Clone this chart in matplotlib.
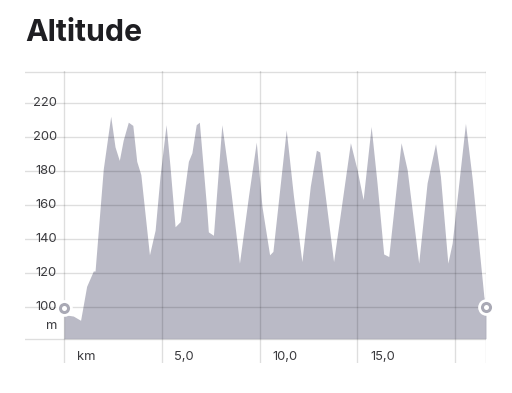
import matplotlib.pyplot as plt

plt.rcParams['font.family'] = ['Inter', 'DejaVu Sans']

# elevation profile
km = [0, 0.2, 0.48, 0.85, 1.16, 1.50, 1.59, 2.01, 2.39, 2.61, 2.83, 3.03, 3.29, 3.52,
      3.72, 3.93, 4.37, 4.66, 4.91, 5.22, 5.42, 5.68, 5.94, 6.36, 6.54, 6.76, 6.92,
      7.30, 7.38, 7.64, 8.07, 8.50, 8.97, 9.43, 9.83, 10.12, 10.51, 10.68, 11.36,
      11.73, 12.16, 12.59, 12.90, 13.07, 13.78, 14.64, 14.98, 15.29, 15.70, 16.00,
      16.34, 16.60, 17.23, 17.54, 18.13, 18.56, 18.99, 19.24, 19.62, 19.84, 20.52,
      20.87, 21.46, 21.57]
alt = [99, 95, 94.5, 92, 112, 121, 121, 181, 212, 194, 186, 198, 208.5, 206.6,
       185.5, 177.7, 130.5, 145, 176.7, 207, 182.6, 147, 150, 185.5, 190.5, 207, 208.5,
       157, 144, 142, 207, 170.8, 125.6, 165, 196.8, 159, 130.5, 132.5, 204,
       165, 126.5, 170.8, 192, 191, 126.5, 196.4, 180.6, 163, 206, 172.8,
       131, 129.5, 196.4, 180.6, 125.6, 172.8, 195.8, 176.7, 125.6, 137.4, 207.8,
       174.7, 106, 100]

yticks = [100, 120, 140, 160, 180, 200, 220]
xticks = [0, 5, 10, 15, 20]
xlabels = ['km', '5,0', '10,0', '15,0', '']

base = 81.2
fillc = '#babac6'
gridc = (0, 0, 0, 0.13)
txtc = '#3a3a3e'

fig = plt.figure(figsize=(5.12, 3.93), dpi=100)
ax = fig.add_axes([25/512, 30/393, 461/512, 292/393])
ax.set_xlim(-1.99, 21.57)
ax.set_ylim(66.9, 238.6)
ax.axis('off')

ax.fill_between(km, alt, base, color=fillc, lw=0, zorder=1)

for y in yticks + [base, 238.3]:
    ax.axhline(y, color=gridc, lw=1.0, zorder=2)
for x in xticks + [km[-1]]:
    ax.axvline(x, color=gridc, lw=1.0, zorder=2)

for y in yticks:
    ax.text(-0.36, y, str(y), ha='right', va='center', fontsize=9.3, color=txtc, zorder=3)
ax.text(-0.36, 88.8, 'm', ha='right', va='center', fontsize=9.3, color=txtc, zorder=3)
for x, lab in zip(xticks, xlabels):
    ax.text(x + 0.65, 70.6, lab, ha='left', va='center', fontsize=9.3, color=txtc, zorder=3)

# start / end markers
for i in (0, -1):
    ax.plot(km[i], alt[i], 'o', ms=10, mfc='#a9a9b5', mec='white', mew=2,
            clip_on=False, zorder=4)
    ax.plot(km[i], alt[i], 'o', ms=3.6, mfc='white', mec='none', clip_on=False, zorder=5)

fig.text(25/512, 1 - 41/393, 'Altitude', fontsize=21.8, fontweight='bold',
         color='#1e1e22', ha='left', va='baseline')

fig.savefig('out.png', dpi=100)
